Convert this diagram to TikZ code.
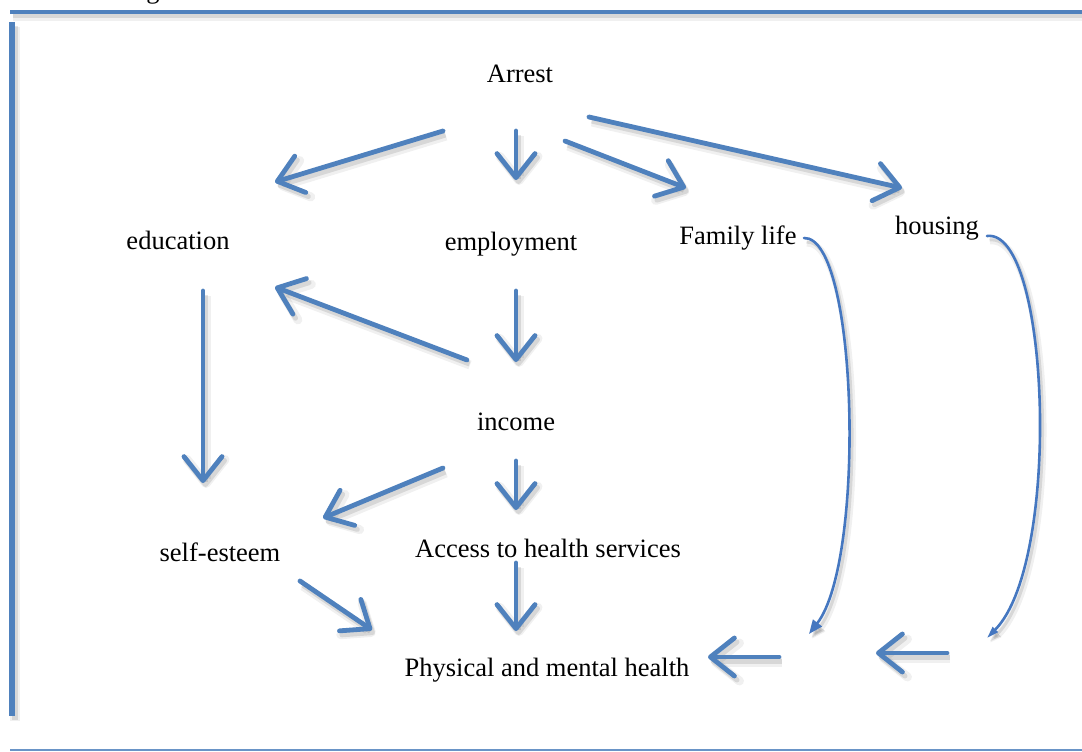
\documentclass[tikz,border=0pt]{standalone}
\usepackage{fontspec}
\setmainfont{Liberation Serif}
\usetikzlibrary{arrows.meta,calc}
\definecolor{ablue}{HTML}{4F81BD}
\definecolor{cblue}{HTML}{4577C0}
\tikzset{
  shad/.style={
    preaction={draw=black,opacity=0.06,line width=#1+4pt,transform canvas={shift={(3pt,-5pt)}}},
    preaction={draw=black,opacity=0.10,line width=#1,transform canvas={shift={(2.5pt,-4pt)}}}},
  lbl/.style={anchor=base,inner sep=0pt,font=\fontsize{26.5}{30}\selectfont},
  arr/.style={draw=ablue,line width=4.8pt,line cap=round,shad=5pt,
    -{Straight Barb[round,length=24pt,width=38pt]}},
  curv/.style={draw=cblue,line width=2.6pt,line cap=round,shad=3pt,
    -{Triangle[length=14pt,width=11pt]}},
  frame/.style={draw=ablue,line cap=butt}
}
\begin{document}
\begin{tikzpicture}[x=1pt,y=-1pt]
\useasboundingbox (0,0) rectangle (1082,752);
\fill[white] (0,0) rectangle (1082,752);
% frame
\draw[frame,line width=4.5pt,shad=5pt] (10,12) -- (1090,12);
\draw[frame,line width=5.5pt,shad=6pt] (12,22) -- (12,716);
\draw[draw=ablue!85,line width=2pt] (10,749.5) -- (1090,749.5);
\node[lbl] (frag) at (153,-1.5) {g};
% labels
\node[lbl] (arrest) at (520,83) {Arrest};
\node[lbl] (edu) at (178,249) {education};
\node[lbl] (emp) at (511,250) {employment};
\node[lbl] (fam) at (738,244) {Family life};
\node[lbl] (hous) at (937,234) {housing};
\node[lbl] (inc) at (516,430) {income};
\node[lbl] (self) at (220,561) {self-esteem};
\node[lbl] (acc) at (548,557) {Access to health services};
\node[lbl] (phys) at (547,676) {Physical and mental health};
% free ends
\coordinate (famEnd) at (809,634);
\coordinate (housEnd) at (987,638);
\coordinate (famArr) at (779,657);
\coordinate (housArr) at (947,653);
\coordinate (housTip) at (876,653);
% arrows
\draw[arr] ([shift={(-77,48)}]arrest.base) -- ([shift={(97,-67)}]edu.base);
\draw[arr] ([shift={(-4,48)}]arrest.base) -- ([shift={(5,-70)}]emp.base);
\draw[arr] ([shift={(45,58)}]arrest.base) -- ([shift={(-52,-56)}]fam.base);
\draw[arr] ([shift={(69,34)}]arrest.base) -- ([shift={(-35,-46)}]hous.base);
\draw[arr] ([shift={(-49,-70)}]inc.base) -- ([shift={(97,38)}]edu.base);
\draw[arr] ([shift={(5,41)}]emp.base) -- ([shift={(0,-68)}]inc.base);
\draw[arr] ([shift={(25,42)}]edu.base) -- ([shift={(-17,-78)}]self.base);
\draw[arr] ([shift={(-73,38)}]inc.base) -- ([shift={(103,-43)}]self.base);
\draw[arr] ([shift={(0,31)}]inc.base) -- ([shift={(-32,-47)}]acc.base);
\draw[arr] ([shift={(80,20)}]self.base) -- ([shift={(-175,-46)}]phys.base);
\draw[arr] ([shift={(-32,6)}]acc.base) -- ([shift={(-31,-45)}]phys.base);
\draw[arr] (famArr) -- ([shift={(161,-19)}]phys.base);
\draw[arr] (housArr) -- (housTip);
% curves
\draw[curv] ([shift={(66,-6)}]fam.base) .. controls (858,236) and (866,560) .. (famEnd);
\draw[curv,-{Triangle[length=12pt,width=7pt]}] ([shift={(50,2)}]hous.base) .. controls (1050,228) and (1062,562) .. (housEnd);
\end{tikzpicture}
\end{document}
